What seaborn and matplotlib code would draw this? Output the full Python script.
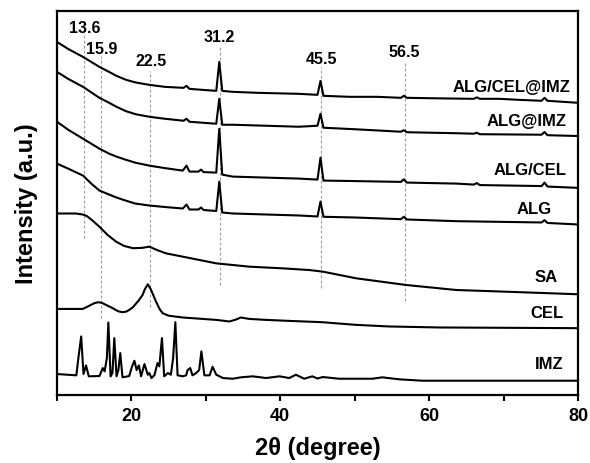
import numpy as np
import pandas as pd
import matplotlib
matplotlib.use("Agg")
import matplotlib.pyplot as plt
import seaborn as sns

# XRD-Muster, Intensitaet in beliebigen Einheiten
alg_cel_imz_x = [10, 11.5, 13.5, 15.7, 17, 18, 19.3, 20.5, 22.4, 24.5, 27, 27.4, 27.8, 29.5, 31.4, 31.8, 32.2,
                 33.6, 37, 42.5, 45.0, 45.4, 45.8, 49.3, 53, 56.2, 56.6, 57.0, 61, 66.0, 66.4, 66.8,
                 69.4, 72, 75.1, 75.5, 75.9, 80]
alg_cel_imz_y = [354, 347, 339, 329, 324, 320, 316, 313.5, 311, 309, 308, 310, 307, 306, 305, 334, 305,
                 304, 303, 302, 301, 315, 300, 299, 299, 298, 300, 298, 297.5, 297, 298.5, 297,
                 297, 296, 295, 298, 295, 293]

alg_imz_x = [10, 11.5, 13.5, 15.7, 17, 18, 19.3, 20.6, 22.4, 24.5, 27, 27.4, 27.8, 31.4, 31.8, 32.2, 33.6, 42.5,
             45.0, 45.4, 45.8, 50, 56.2, 56.6, 57.0, 63.6, 66.0, 66.4, 66.8, 75.1, 75.5, 75.9, 80]
alg_imz_y = [324, 317, 309, 298, 293, 289, 284.5, 281.5, 279, 277, 275, 277, 274, 272, 297, 271, 271, 269,
             270, 282, 268, 266.5, 264, 265.5, 263.5, 262.5, 262, 263, 261.5, 261, 263.7, 260.5, 259.7]

alg_cel_x = [10, 11.5, 13.5, 15.7, 17, 18, 19.2, 20.5, 22.4, 24.5, 26.9, 27.4, 27.8, 29.0, 29.35, 29.7, 31.4, 31.8,
             32.2, 33.6, 42.5, 45.0, 45.4, 45.8, 50, 56.2, 56.6, 57.0, 63.6, 66.0, 66.4, 66.8, 75.1, 75.5,
             75.9, 80]
alg_cel_y = [274, 266, 257, 247, 242, 239, 236, 233, 230, 227.5, 225, 230, 224, 224, 226, 223.5, 223, 267,
             221, 219, 217, 216, 238, 215, 214.5, 213.7, 216.3, 213, 212, 211, 212.5, 210.5, 209.5, 213,
             209, 207.7]

alg_x = [10, 11.5, 13.5, 14.6, 15.7, 17, 18, 19.2, 20.5, 22.4, 24.5, 26.9, 27.4, 27.8, 29.0, 29.35, 29.7, 31.4,
         31.8, 32.2, 33.6, 42.5, 45.0, 45.4, 45.8, 50, 56.2, 56.6, 57.0, 63.6, 75.1, 75.5, 75.9, 80]
alg_y = [232, 227, 220, 212, 205, 201, 198, 195, 192, 190, 188.5, 187, 191, 186, 186, 188, 185.5, 184.5,
         214, 183, 182, 180, 179, 194, 178.7, 178, 176.3, 178.7, 176, 174.3, 173, 175.3, 172.5, 171]

sa_x = [10, 12.5, 13.46, 14.0, 14.6, 15.7, 16.8, 17.95, 19.0, 20.2, 21.4, 22.4, 23.4, 24.66, 26.9, 31.4,
        35.8, 40.3, 43.9, 45.7, 50.2, 56.9, 63.6, 72.5, 80]
sa_y = [182, 182, 181, 179.5, 176, 168.7, 160.5, 153.7, 149.5, 147.2, 147.5, 148.7, 145.5, 142, 138.7, 132,
        128.7, 127, 125.3, 123.7, 117, 110.3, 105.3, 103, 101]

cel_x = [10, 13.46, 14.4, 15.0, 15.5, 16.0, 16.4, 17.5, 18.2, 18.8, 19.3, 19.7, 20.2, 21.0, 21.5, 21.8, 22.2,
         22.6, 23.0, 23.3, 23.8, 24.2, 25.0, 26.9, 31.4, 33.15, 34.0, 34.7, 35.8, 38.1, 41.2, 45.6, 50.2,
         54.6, 61.3, 80]
cel_y = [86.3, 86.3, 89.7, 92, 93, 92.5, 91, 87, 84, 83, 83.6, 85.3, 88, 95, 100.3, 106, 111,
         106, 99, 93.7, 86, 82, 79.5, 77.7, 75.3, 73.7, 75.5, 77.7, 76.3, 75.3, 74.3, 73, 70.3,
         68.7, 67.7, 67]

imz_x = [10, 12.6, 12.9, 13.25, 13.56, 13.9, 14.27, 15.7, 16.15, 16.4, 16.7, 16.9, 17.2, 17.45, 17.7,
         18.0, 18.25, 18.5, 18.8, 19.7, 20.1, 20.4, 20.7, 21.0, 21.3, 21.75, 22.2, 22.4, 22.7, 23.1,
         23.5, 23.75, 24.1, 24.4, 24.9, 25.3, 25.6, 25.9, 26.2, 26.9, 27.35, 27.55, 27.9, 28.2, 28.7,
         29.1, 29.4, 29.8, 30.5, 30.9, 31.4, 32.3, 33.6, 34.7, 36.3, 38.1, 39.9, 41.2, 42.1, 43.2,
         44.3, 45.0, 45.7, 47.9, 52.4, 53.7, 56.0, 59.1, 80]
imz_y = [21, 19.7, 38.7, 58.7, 21, 29.7, 18.7, 19, 27, 23.7, 37, 72.7, 18.7, 22, 57,
         18.7, 25, 42, 17.7, 19, 29, 34.3, 25, 29.7, 18.7, 31, 20.3, 22, 17, 20,
         32, 28.7, 57, 18.7, 22, 20.3, 37, 73, 19.7, 18.7, 19.7, 25, 27, 19.7, 22,
         25, 43.7, 19.7, 19.7, 28.3, 20.3, 17, 16.3, 17.7, 18.7, 17, 18.7, 17, 20.3, 16.3,
         18.7, 16.5, 18, 16.3, 16.3, 17.7, 15.7, 14.3, 14.3]

samples = ["ALG/CEL@IMZ", "ALG@IMZ", "ALG/CEL", "ALG", "SA", "CEL", "IMZ"]
traces = [(alg_cel_imz_x, alg_cel_imz_y), (alg_imz_x, alg_imz_y), (alg_cel_x, alg_cel_y),
          (alg_x, alg_y), (sa_x, sa_y), (cel_x, cel_y), (imz_x, imz_y)]
label_x = [79.0, 78.5, 78.5, 76.4, 77.2, 78.1, 78.1]
label_y = [309, 275, 226, 187, 119, 83, 32]

# Peak-Markierungen
peak_pos = [13.65, 15.85, 22.45, 31.85, 45.45, 56.7]
peak_text = ["13.6", "15.9", "22.5", "31.2", "45.5", "56.5"]
peak_top = [364, 340, 325, 350, 329, 335]
peak_bottom = [157, 77, 88, 110, 107, 94]
peak_text_x = [13.7, 16.0, 22.7, 31.8, 45.5, 56.6]
peak_text_y = [369, 347, 335, 359, 337, 344]

rows = []
for name, (xs, ys) in zip(samples, traces):
    for a, b in zip(xs, ys):
        rows.append((name, a, b))
df = pd.DataFrame(rows, columns=["sample", "two_theta", "intensity"])

sns.set_theme(style="white")
plt.rcParams["font.family"] = ["Liberation Sans", "DejaVu Sans"]
plt.rcParams["font.weight"] = "bold"
plt.rcParams["text.color"] = "black"
plt.rcParams["axes.labelcolor"] = "black"

fig = plt.figure(figsize=(5.9, 4.64), dpi=100)
ax = fig.add_axes([0.0966, 0.1466, 0.8831, 0.8274])

ax.vlines(peak_pos, peak_bottom, peak_top, colors="#9a9a9a", linestyles=(0, (2.5, 2)), lw=0.8)
for tx, ty, t in zip(peak_text_x, peak_text_y, peak_text):
    ax.text(tx, ty, t, ha="center", va="center", fontsize=11.5, fontweight="bold", color="black")

for name in samples:
    sub = df[df["sample"] == name]
    sns.lineplot(data=sub, x="two_theta", y="intensity", ax=ax, color="black", lw=1.5,
                 estimator=None, sort=False, legend=False)

for name, lx, ly in zip(samples, label_x, label_y):
    ax.text(lx, ly, name, ha="right", va="center", fontsize=12, fontweight="bold", color="black")

ax.set_xlim(10, 80)
ax.set_ylim(0, 385)
ax.set_xticks([20, 40, 60, 80])
ax.set_xticks([10, 30, 50, 70], minor=True)
ax.set_yticks([])
ax.tick_params(axis="x", which="both", direction="out", length=4, width=1.5, bottom=True,
               labelsize=13, pad=5, colors="black")
for lab in ax.get_xticklabels():
    lab.set_fontweight("bold")
for s in ax.spines.values():
    s.set_linewidth(1.6)
    s.set_color("black")
ax.set_xlabel("2θ (degree)", fontsize=17, fontweight="bold", labelpad=8, color="black")
ax.set_ylabel("Intensity (a.u.)", fontsize=17, fontweight="bold", labelpad=14, color="black")

fig.savefig("out.png", dpi=100)
